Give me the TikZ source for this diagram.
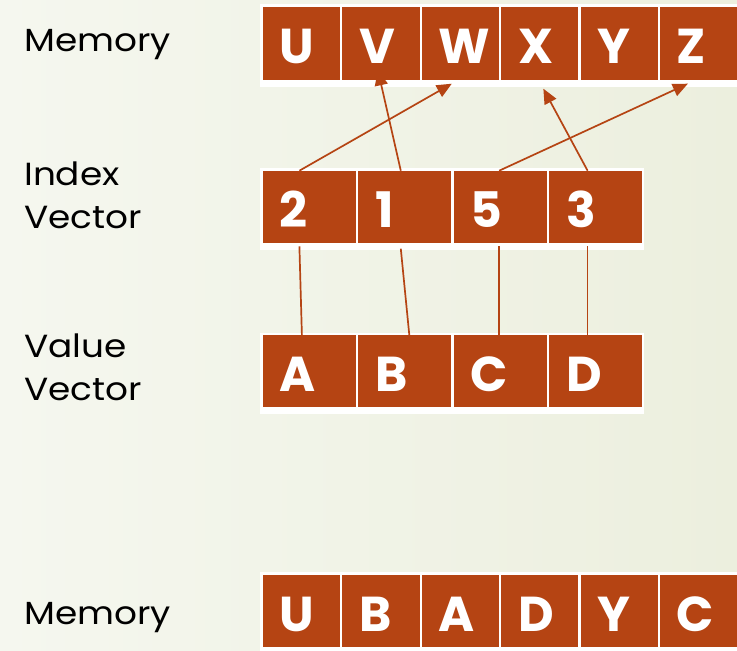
\documentclass[tikz,border=0pt]{standalone}
\usepackage{fontspec}
\setmainfont{Poppins}
\newfontfamily\lblfont[FakeStretch=1.12]{Poppins}
\usetikzlibrary{arrows.meta}
\definecolor{boxc}{HTML}{B54413}
\definecolor{bgl}{HTML}{F5F7EF}
\definecolor{bgr}{HTML}{ECEFDE}
\tikzset{
  memcell/.style={fill=boxc, draw=none, anchor=north west, minimum width=77.3pt, minimum height=72.6pt,
    inner ysep=0pt, inner xsep=17pt, text width=43.3pt, align=left, text=white,
    font=\fontsize{49}{49}\selectfont\bfseries, text height=41pt, text depth=0pt},
  veccell/.style={memcell, minimum width=93pt, minimum height=72pt, text width=59pt},
  tablebg/.style={fill=white, draw=none},
  lbl/.style={anchor=base west, inner sep=0pt, align=left, font=\lblfont\fontsize{32}{43}\selectfont},
  conn/.style={draw=boxc, line width=1.7pt},
  arr/.style={conn, -{Triangle[length=15pt,width=13pt]}}
}
\begin{document}
\begin{tikzpicture}[x=1pt,y=-1pt]
\useasboundingbox (0,0) rectangle (737,651);
\shade[left color=bgl, right color=bgr] (0,0) rectangle (737,651);
% table backgrounds
\fill[tablebg] (260,4) rectangle (737,87);
\fill[tablebg] (260,168) rectangle (644.3,250);
\fill[tablebg] (260,332.7) rectangle (644.3,414.3);
\fill[tablebg] (260,572.3) rectangle (737,651);
% labels
\node[lbl] (lmem) at (24,51.7) {Memory};
\node[lbl] (lidx) at (24,228.3) {Index\\Vector};
\node[lbl] (lval) at (24,400) {Value\\Vector};
\node[lbl] (lmem2) at (24,624) {Memory};
% top memory
\foreach \t [count=\i] in {U,V,W,X,Y,Z}{
  \node[memcell] (m\t) at ({262.7+79.4*(\i-1)},6.7) {\t};
}
% index vector
\foreach \t [count=\i] in {2,1,5,3}{
  \node[veccell] (i\i) at ({262.7+95.4*(\i-1)},170.7) {\t};
}
% value vector
\foreach \t [count=\i] in {A,B,C,D}{
  \node[veccell, minimum height=71.5pt] (v\i) at ({262.7+95.4*(\i-1)},335) {\t};
}
% bottom memory
\foreach \t [count=\i] in {U,B,A,D,Y,C}{
  \node[memcell] (b\i) at ({262.7+79.4*(\i-1)},574.3) {\t};
}
% arrows index -> memory
\draw[arr] ([xshift=-10pt]i1.north) -- ([xshift=-8.6pt,yshift=-4pt]mW.south);
\draw[arr] ([xshift=-4pt]i2.north) -- ([xshift=-3pt,yshift=9.3pt]mV.south);
\draw[arr] ([xshift=-1pt]i3.north) -- ([xshift=-10.7pt,yshift=-4pt]mZ.south);
\draw[arr] ([xshift=-8pt]i4.north) -- ([xshift=3.6pt,yshift=-9pt]mX.south);
% lines index -> value
\draw[conn] ([xshift=-10pt,yshift=-3.3pt]i1.south) -- ([xshift=-7.5pt]v1.north);
\draw[conn] ([xshift=-4pt,yshift=-5.6pt]i2.south) -- ([xshift=4.5pt]v2.north);
\draw[conn] ([xshift=-1pt,yshift=-3.3pt]i3.south) -- ([xshift=-1pt]v3.north);
\draw[conn] ([xshift=-8pt,yshift=-3.3pt]i4.south) -- ([xshift=-8pt]v4.north);
\end{tikzpicture}
\end{document}
